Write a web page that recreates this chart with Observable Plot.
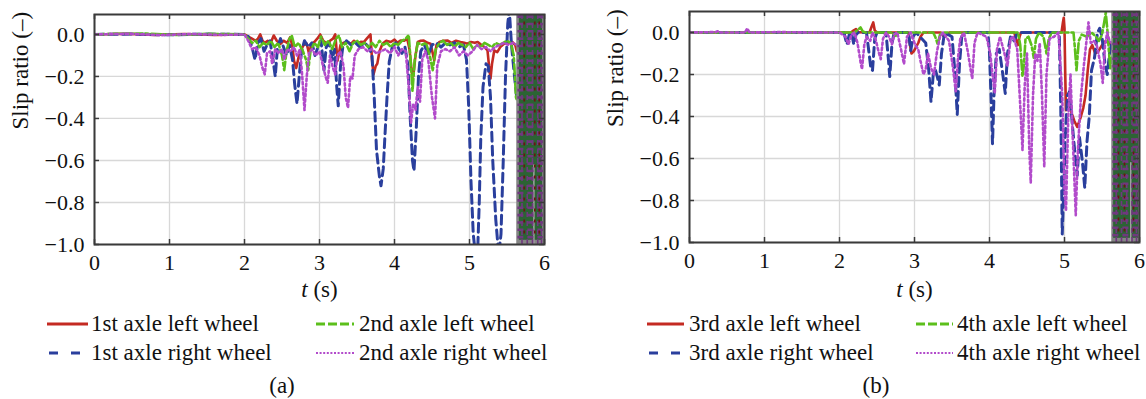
<!DOCTYPE html>
<html><head><meta charset="utf-8">
<script src="https://cdn.jsdelivr.net/npm/d3@7"></script>
<script src="https://cdn.jsdelivr.net/npm/@observablehq/plot@0.6"></script>
<style>
body{margin:0;background:#fff;width:1146px;height:399px;overflow:hidden;position:relative;font-family:"Liberation Serif","Tinos","Times New Roman","DejaVu Serif",serif;color:#111;}
.panel{position:absolute;top:0;}
.panel svg, .panel svg text{font-family:"Liberation Serif","Tinos","Times New Roman","DejaVu Serif",serif !important;}
.item{position:absolute;height:28px;display:flex;align-items:center;font-size:23px;white-space:nowrap;}
.item svg{display:block;}
.cap{position:absolute;font-size:23px;transform:translate(-50%,-50%);}
</style></head><body>
<div id="pa" class="panel" style="left:0px"></div>
<div id="pb" class="panel" style="left:595px"></div>
<script>
// ---------- ticks ----------
const xTicks = [0, 1, 2, 3, 4, 5, 6];
const yTicks = [0, -0.2, -0.4, -0.6, -0.8, -1.0];

// ---------- panel (a) series: [t (s), slip ratio] ----------
const a1L = [[0,0],[0.4,0.003],[0.8,-0.002],[1.2,0.002],[1.6,-0.002],[2.0,0],
[2.05,-0.01],[2.1,-0.02],[2.15,-0.03],[2.18,-0.02],[2.21,0],[2.24,-0.03],[2.27,-0.04],[2.31,-0.03],[2.35,-0.04],[2.39,-0.005],[2.43,-0.03],[2.48,-0.045],[2.52,-0.03],[2.57,-0.04],[2.61,-0.013],[2.64,-0.06],[2.66,-0.125],[2.69,-0.16],[2.72,-0.11],[2.75,-0.076],[2.79,-0.05],[2.83,-0.044],[2.86,-0.09],[2.89,-0.05],[2.93,-0.036],[2.97,-0.02],[3.01,0],[3.05,-0.03],[3.1,-0.044],[3.14,-0.03],[3.18,-0.02],[3.21,0],[3.24,-0.125],[3.28,-0.05],[3.32,-0.04],[3.37,-0.036],[3.42,-0.045],[3.46,-0.03],[3.5,-0.044],[3.55,-0.035],[3.59,-0.036],[3.63,-0.02],[3.68,0],[3.7,-0.12],[3.72,-0.19],[3.75,-0.15],[3.77,-0.14],[3.8,-0.08],[3.84,-0.044],[3.89,-0.03],[3.95,-0.036],[4.0,-0.025],[4.04,-0.04],[4.08,-0.029],[4.13,-0.03],[4.17,-0.02],[4.2,-0.07],[4.23,-0.18],[4.25,-0.2],[4.28,-0.1],[4.31,-0.036],[4.35,-0.03],[4.39,-0.029],[4.44,-0.04],[4.48,-0.044],[4.51,-0.09],[4.53,-0.124],[4.56,-0.05],[4.6,-0.036],[4.65,-0.03],[4.71,-0.029],[4.76,-0.04],[4.82,-0.03],[4.88,-0.036],[4.93,-0.04],[4.97,-0.044],[5.02,-0.036],[5.07,-0.04],[5.11,-0.036],[5.16,-0.05],[5.2,-0.06],[5.24,-0.076],[5.26,-0.15],[5.28,-0.21],[5.3,-0.14],[5.33,-0.076],[5.37,-0.084],[5.41,-0.06],[5.46,-0.044],[5.51,-0.04],[5.57,-0.036],[5.61,-0.05],[5.63,-0.08]];
const a1R = [[0,0],[0.5,0.002],[1.0,-0.002],[1.5,0.002],[2.0,0],
[2.05,-0.01],[2.1,-0.06],[2.14,-0.12],[2.18,-0.04],[2.22,-0.02],[2.26,-0.08],[2.3,-0.05],[2.34,-0.03],[2.38,-0.12],[2.41,-0.2],[2.44,-0.06],[2.48,-0.02],[2.52,-0.06],[2.56,-0.1],[2.6,-0.05],[2.64,-0.12],[2.67,-0.24],[2.7,-0.33],[2.73,-0.2],[2.76,-0.08],[2.8,-0.03],[2.85,-0.06],[2.9,-0.04],[2.94,-0.1],[2.98,-0.06],[3.02,-0.03],[3.06,-0.17],[3.09,-0.06],[3.13,-0.04],[3.17,-0.12],[3.2,-0.07],[3.23,-0.25],[3.25,-0.34],[3.28,-0.15],[3.31,-0.06],[3.36,-0.03],[3.42,-0.05],[3.48,-0.04],[3.54,-0.06],[3.6,-0.04],[3.66,-0.06],[3.7,-0.1],[3.73,-0.3],[3.76,-0.55],[3.8,-0.68],[3.82,-0.72],[3.85,-0.64],[3.87,-0.5],[3.9,-0.3],[3.93,-0.13],[3.97,-0.06],[4.02,-0.04],[4.06,-0.07],[4.1,-0.09],[4.14,-0.06],[4.18,-0.15],[4.21,-0.4],[4.24,-0.6],[4.26,-0.65],[4.29,-0.45],[4.32,-0.2],[4.35,-0.08],[4.4,-0.05],[4.45,-0.1],[4.5,-0.05],[4.56,-0.04],[4.62,-0.06],[4.68,-0.04],[4.74,-0.05],[4.8,-0.04],[4.86,-0.06],[4.92,-0.05],[4.96,-0.12],[4.99,-0.35],[5.02,-0.7],[5.05,-0.95],[5.08,-1.05],[5.11,-1.02],[5.13,-0.8],[5.15,-0.5],[5.18,-0.25],[5.22,-0.14],[5.25,-0.15],[5.28,-0.3],[5.31,-0.6],[5.35,-0.88],[5.39,-1.05],[5.42,-0.95],[5.45,-0.6],[5.48,-0.2],[5.51,0.05],[5.53,0.12],[5.56,-0.05],[5.6,-0.2],[5.63,-0.3]];
const a2L = [[0,0],[0.3,0.003],[0.7,0.004],[1.1,-0.002],[1.5,0.003],[2.0,0],
[2.05,-0.02],[2.1,-0.04],[2.15,-0.03],[2.2,-0.06],[2.25,-0.04],[2.3,-0.05],[2.35,-0.03],[2.4,-0.06],[2.45,-0.04],[2.5,-0.1],[2.53,-0.17],[2.56,-0.08],[2.6,-0.02],[2.63,-0.005],[2.67,-0.06],[2.72,-0.04],[2.78,-0.08],[2.82,-0.12],[2.85,-0.17],[2.88,-0.08],[2.93,-0.04],[2.98,-0.06],[3.02,-0.01],[3.07,-0.05],[3.12,-0.03],[3.17,-0.07],[3.22,-0.02],[3.26,-0.005],[3.3,-0.06],[3.35,-0.04],[3.4,-0.08],[3.45,-0.04],[3.5,-0.03],[3.55,-0.05],[3.6,-0.04],[3.65,-0.06],[3.7,-0.04],[3.75,-0.06],[3.8,-0.03],[3.85,-0.05],[3.9,-0.04],[3.95,-0.06],[4.0,-0.04],[4.05,-0.05],[4.1,-0.03],[4.15,-0.02],[4.19,-0.002],[4.22,-0.15],[4.24,-0.27],[4.27,-0.12],[4.31,-0.04],[4.36,-0.05],[4.42,-0.04],[4.47,-0.1],[4.51,-0.17],[4.55,-0.07],[4.6,-0.04],[4.65,-0.03],[4.7,-0.05],[4.75,-0.04],[4.8,-0.06],[4.85,-0.04],[4.9,-0.05],[4.95,-0.06],[5.0,-0.04],[5.05,-0.07],[5.1,-0.05],[5.15,-0.06],[5.2,-0.04],[5.25,-0.05],[5.3,-0.06],[5.35,-0.04],[5.4,-0.05],[5.45,-0.04],[5.5,-0.03],[5.55,-0.04],[5.59,-0.1],[5.62,-0.3],[5.64,-0.32]];
const a2R = [[0,0],[0.45,0.003],[0.9,-0.003],[1.3,0.002],[1.7,-0.002],[2.0,0],
[2.05,-0.03],[2.1,-0.07],[2.15,-0.06],[2.2,-0.1],[2.24,-0.16],[2.27,-0.19],[2.3,-0.09],[2.34,-0.08],[2.37,-0.14],[2.41,-0.07],[2.46,-0.09],[2.5,-0.07],[2.53,-0.12],[2.57,-0.07],[2.62,-0.08],[2.66,-0.06],[2.7,-0.1],[2.74,-0.07],[2.77,-0.2],[2.8,-0.36],[2.83,-0.2],[2.86,-0.09],[2.9,-0.07],[2.95,-0.1],[3.0,-0.08],[3.04,-0.14],[3.08,-0.2],[3.11,-0.23],[3.14,-0.1],[3.18,-0.16],[3.21,-0.19],[3.24,-0.1],[3.28,-0.08],[3.32,-0.15],[3.35,-0.3],[3.38,-0.35],[3.41,-0.2],[3.44,-0.21],[3.47,-0.1],[3.52,-0.07],[3.58,-0.06],[3.64,-0.08],[3.7,-0.07],[3.76,-0.09],[3.82,-0.08],[3.88,-0.07],[3.94,-0.09],[4.0,-0.06],[4.05,-0.1],[4.1,-0.07],[4.15,-0.08],[4.19,-0.25],[4.22,-0.42],[4.25,-0.33],[4.28,-0.36],[4.31,-0.25],[4.34,-0.32],[4.37,-0.12],[4.41,-0.08],[4.45,-0.12],[4.5,-0.3],[4.54,-0.4],[4.57,-0.15],[4.62,-0.08],[4.68,-0.07],[4.74,-0.08],[4.8,-0.06],[4.86,-0.1],[4.92,-0.08],[4.98,-0.1],[5.04,-0.08],[5.1,-0.05],[5.16,-0.07],[5.22,-0.06],[5.28,-0.08],[5.34,-0.06],[5.4,-0.05],[5.46,-0.04],[5.52,-0.05],[5.58,-0.04],[5.63,-0.05]];

// ---------- panel (b) series ----------
const b3L = [[0,0],[0.5,0],[1,0],[1.5,0],[2,0],[2.15,0],[2.19,0.01],[2.22,0.016],[2.25,0.002],[2.4,0],[2.43,0.03],[2.45,0.048],[2.47,0.01],[2.5,0],[2.92,0],[2.94,-0.06],[2.96,-0.1],[2.99,-0.09],[3.02,-0.07],[3.05,-0.05],[3.08,-0.02],[3.12,0],[3.35,0],[3.38,-0.016],[3.41,-0.02],[3.44,-0.005],[3.47,0],[4.33,0],[4.36,-0.04],[4.38,-0.06],[4.4,-0.02],[4.42,0],[4.96,0],[4.98,0.05],[4.99,0.07],[5.0,0.02],[5.01,-0.2],[5.02,-0.37],[5.05,-0.32],[5.09,-0.38],[5.13,-0.42],[5.17,-0.45],[5.21,-0.41],[5.25,-0.36],[5.28,-0.3],[5.31,-0.18],[5.34,-0.08],[5.37,-0.06],[5.41,-0.1],[5.45,-0.09],[5.5,-0.06],[5.55,-0.04],[5.6,-0.05],[5.63,-0.06]];
const b3R = [[0,0],[1,0],[2,0],[2.06,0],[2.08,-0.03],[2.1,-0.057],[2.13,-0.01],[2.16,0],[2.19,-0.056],[2.22,-0.01],[2.25,0],[2.36,0],[2.39,-0.087],[2.42,-0.175],[2.44,-0.18],[2.47,-0.03],[2.5,0],[2.62,0],[2.65,-0.12],[2.67,-0.21],[2.7,-0.05],[2.73,0],[2.92,0],[2.95,-0.087],[2.98,-0.02],[3.02,0],[3.15,-0.05],[3.19,-0.18],[3.22,-0.33],[3.25,-0.2],[3.28,-0.18],[3.31,-0.22],[3.33,-0.25],[3.36,-0.1],[3.4,0],[3.5,-0.02],[3.53,-0.15],[3.55,-0.26],[3.57,-0.39],[3.6,-0.15],[3.63,-0.02],[3.66,0],[3.98,0],[4.0,-0.1],[4.02,-0.3],[4.04,-0.53],[4.06,-0.3],[4.09,-0.1],[4.13,-0.08],[4.17,-0.18],[4.21,-0.29],[4.24,-0.1],[4.28,-0.02],[4.33,-0.04],[4.37,0],[4.93,0],[4.95,-0.35],[4.97,-0.96],[4.99,-0.75],[5.01,-0.5],[5.04,-0.3],[5.07,-0.28],[5.1,-0.42],[5.14,-0.58],[5.17,-0.68],[5.2,-0.5],[5.24,-0.62],[5.27,-0.74],[5.3,-0.52],[5.33,-0.4],[5.36,-0.18],[5.4,-0.12],[5.44,0],[5.47,0.02],[5.5,-0.02],[5.54,-0.15],[5.57,-0.2],[5.6,-0.1],[5.63,-0.05]];
const b4L = [[0,0],[1,0],[2,0],[2.2,0],[2.25,0.015],[2.28,0.024],[2.31,0.005],[2.35,0],[2.7,0],[2.75,-0.016],[2.78,0],[3.25,0],[3.28,-0.024],[3.31,-0.056],[3.34,-0.01],[3.37,0],[4.38,0],[4.41,-0.06],[4.44,-0.21],[4.46,-0.15],[4.48,-0.03],[4.52,-0.02],[4.56,-0.06],[4.59,-0.12],[4.62,-0.03],[4.66,0],[4.72,-0.02],[4.76,-0.1],[4.79,-0.03],[4.83,0],[5.12,0],[5.14,-0.08],[5.16,-0.18],[5.19,-0.04],[5.23,-0.01],[5.3,-0.02],[5.36,0],[5.42,-0.02],[5.46,-0.04],[5.5,-0.01],[5.53,0.05],[5.55,0.095],[5.57,0.02],[5.59,-0.08],[5.61,-0.17],[5.63,-0.12]];
const b4R = [[0,0],[0.35,0.002],[0.38,0.006],[0.41,0],[0.74,0],[0.77,0.02],[0.8,0],[1.2,0.002],[1.6,0],[2.0,0],[2.08,-0.02],[2.12,-0.056],[2.16,-0.01],[2.2,0],[2.24,-0.05],[2.28,-0.14],[2.3,-0.175],[2.33,-0.06],[2.36,-0.02],[2.41,-0.04],[2.44,0],[2.48,-0.03],[2.52,-0.09],[2.55,-0.127],[2.58,-0.03],[2.62,0],[2.66,-0.02],[2.7,-0.056],[2.73,-0.01],[2.77,0],[2.82,-0.08],[2.86,-0.15],[2.9,-0.02],[2.95,0],[3.01,-0.06],[3.05,-0.08],[3.08,-0.135],[3.12,-0.2],[3.15,-0.175],[3.18,-0.1],[3.22,-0.17],[3.26,-0.2],[3.3,-0.09],[3.34,-0.02],[3.38,0],[3.46,-0.04],[3.51,-0.16],[3.55,-0.28],[3.58,-0.12],[3.61,-0.03],[3.66,0],[3.71,-0.09],[3.75,-0.18],[3.77,-0.22],[3.8,-0.05],[3.84,0],[3.96,-0.02],[4.01,-0.1],[4.04,-0.2],[4.07,-0.29],[4.1,-0.08],[4.14,-0.02],[4.2,-0.1],[4.24,-0.16],[4.28,-0.03],[4.32,-0.02],[4.37,-0.08],[4.41,-0.35],[4.44,-0.56],[4.47,-0.25],[4.5,-0.1],[4.53,-0.55],[4.55,-0.715],[4.58,-0.3],[4.61,-0.1],[4.64,-0.135],[4.67,-0.05],[4.7,-0.3],[4.73,-0.64],[4.76,-0.2],[4.8,-0.03],[4.86,-0.02],[4.92,0],[4.97,-0.3],[5.0,-0.75],[5.02,-0.85],[5.05,-0.4],[5.08,-0.2],[5.11,-0.5],[5.15,-0.87],[5.18,-0.55],[5.22,-0.3],[5.26,-0.15],[5.29,-0.05],[5.32,0.048],[5.35,-0.05],[5.39,-0.04],[5.43,-0.06],[5.48,-0.15],[5.51,-0.24],[5.54,-0.06],[5.57,0.0],[5.6,-0.04],[5.63,-0.05]];

// ---------- divergent (chaotic) end region ----------
const burstSpanA = [5.63, 6.0];
const burstCoreA = [5.665, 5.975];
const burstSpanB = [5.63, 6.0];
const burstCoreB = [5.655, 5.99];
const burstRows = [-0.965,-0.93,-0.895,-0.86,-0.825,-0.79,-0.755,-0.72,-0.685,-0.65,-0.615,-0.58,-0.545,-0.51,-0.475,-0.44,-0.405,-0.37,-0.335,-0.3,-0.265,-0.23,-0.195,-0.16,-0.125,-0.09,-0.055,-0.02,0.015,0.05,0.085];
const burstColsA = [5.7, 5.77, 5.84, 5.91, 5.96];
const burstColsB = [5.69, 5.76, 5.83, 5.9, 5.96];
const burstRedA = [5.73, 5.87, 5.93];
const burstRedB = [5.72, 5.8, 5.92];
const burstLightA = [5.855, 5.875];
const burstLightB = [5.88, 5.9];

const labelsA = ["1st axle left wheel", "1st axle right wheel", "2nd axle left wheel", "2nd axle right wheel"];
const labelsB = ["3rd axle left wheel", "3rd axle right wheel", "4th axle left wheel", "4th axle right wheel"];
const yLabel = "Slip ratio (\u2013)";
const xLabel = "t (s)";

// ---------- styles ----------
const FONT = "'Liberation Serif', Tinos, 'Times New Roman', 'DejaVu Serif', serif";
const styles = [
  {stroke: "#c42a22", strokeWidth: 2.6, dash: null},
  {stroke: "#2a3f9d", strokeWidth: 3, dash: "9,5"},
  {stroke: "#5cbf1c", strokeWidth: 2.6, dash: "10,3,3,3"},
  {stroke: "#b24bcb", strokeWidth: 2.6, dash: "2.4,2.8"}
];

function makePanel(el, cfg) {
  const [y0, y1] = [-1, cfg.yTop];
  const tick = 5;
  const ux = 6 / (cfg.width - cfg.marginLeft - cfg.marginRight);
  const uy = (y1 - y0) / (cfg.height - cfg.marginTop - cfg.marginBottom);
  const marks = [
    Plot.ruleX(xTicks, {x: d => d, stroke: "#d8d8d8", strokeWidth: 1.3}),
    Plot.ruleY(yTicks, {y: d => d, stroke: "#d8d8d8", strokeWidth: 1.3})
  ];
  cfg.series.forEach((s, i) => {
    const st = styles[i];
    marks.push(Plot.line(s, {x: d => d[0], y: d => d[1], stroke: st.stroke, strokeWidth: st.strokeWidth,
      strokeDasharray: st.dash, strokeLinejoin: "round", clip: true}));
  });
  // divergent region
  marks.push(Plot.rect([cfg.burstSpan], {x1: d => d[0], x2: d => d[1], y1: () => y0, y2: () => y1, fill: "#858585"}));
  marks.push(Plot.rect([cfg.burstCore], {x1: d => d[0], x2: d => d[1], y1: () => y0 + 0.02, y2: () => y1, fill: "#2c6334"}));
  marks.push(Plot.rect([cfg.burstLight], {x1: d => d[0], x2: d => d[1], y1: () => y0, y2: () => -0.62, fill: "#a0a0a0"}));
  marks.push(Plot.ruleY(burstRows, {y: d => d, x1: () => cfg.burstSpan[0] + 0.015, x2: () => cfg.burstCore[1] + 0.01, stroke: "#70387f", strokeWidth: 2.6, strokeDasharray: "6,4"}));
  marks.push(Plot.ruleX(cfg.burstCols, {x: d => d, y1: () => y0, y2: () => y1, stroke: "#70387f", strokeWidth: 1.6, strokeDasharray: "5,4"}));
  marks.push(Plot.ruleX(cfg.burstRed, {x: d => d, y1: () => y0 + 0.05, y2: () => y1, stroke: "#6e1212", strokeWidth: 1.6, strokeDasharray: "3,8"}));
  // inward ticks
  marks.push(Plot.ruleX(xTicks, {x: d => d, y1: () => y0, y2: () => y0 + tick * uy, stroke: "#3a3a3a", strokeWidth: 1.5}));
  marks.push(Plot.ruleX(xTicks, {x: d => d, y1: () => y1, y2: () => y1 - tick * uy, stroke: "#3a3a3a", strokeWidth: 1.5}));
  marks.push(Plot.ruleY(yTicks, {y: d => d, x1: () => 0, x2: () => tick * ux, stroke: "#3a3a3a", strokeWidth: 1.5}));
  marks.push(Plot.ruleY(yTicks, {y: d => d, x1: () => 6, x2: () => 6 - tick * ux, stroke: "#3a3a3a", strokeWidth: 1.5}));
  marks.push(Plot.frame({stroke: "#3a3a3a", strokeWidth: 2}));
  marks.push(Plot.axisX({ticks: xTicks, tickSize: 0, tickPadding: 10, fontSize: 22, fontFamily: FONT, label: null, tickFormat: d3.format("d")}));
  marks.push(Plot.axisY({ticks: yTicks, tickSize: 0, tickPadding: 10, fontSize: 22, fontFamily: FONT, label: null, tickFormat: d3.format(".1f")}));
  marks.push(Plot.text([xLabel], {text: d => d, frameAnchor: "bottom", dy: cfg.xLabelDy, fontSize: 23, fontFamily: FONT, lineAnchor: "middle"}));
  marks.push(Plot.text([yLabel], {text: d => d, frameAnchor: "left", dx: cfg.yLabelDx, rotate: -90, fontSize: 23, fontFamily: FONT, lineAnchor: "middle"}));
  const svg = Plot.plot({
    width: cfg.width, height: cfg.height,
    marginLeft: cfg.marginLeft, marginRight: cfg.marginRight, marginTop: cfg.marginTop, marginBottom: cfg.marginBottom,
    x: {domain: [0, 6]}, y: {domain: [y0, y1]},
    style: {fontFamily: FONT, background: "transparent", color: "#111"},
    marks
  });
  svg.querySelectorAll("text").forEach(t => {
    t.setAttribute("font-family", FONT);
    if (t.textContent === xLabel) {
      t.textContent = "";
      const ns = "http://www.w3.org/2000/svg";
      const a = document.createElementNS(ns, "tspan"); a.setAttribute("font-style", "italic"); a.textContent = "t";
      const b = document.createElementNS(ns, "tspan"); b.textContent = " (s)";
      t.append(a, b);
    }
  });
  el.appendChild(svg);
}

function addLegend(labels, pos) {
  const rows = [pos.row1, pos.row2];
  const order = [[0, 0], [1, 0], [0, 1], [1, 1]]; // [row, col] for series 0..3
  labels.forEach((lab, i) => {
    const [r, c] = order[i];
    const st = styles[i];
    const sx = pos.swatchX[c], sw = pos.swatchW[c], tx = pos.textX[c];
    const div = document.createElement("div");
    div.className = "item";
    div.style.left = sx + "px";
    div.style.top = (rows[r] - 14) + "px";
    div.style.fontFamily = FONT;
    const off = i === 1 ? 2 : 0;
    const len = i === 1 ? 33 : sw;
    const dash = i === 1 ? "9,13" : (i === 2 ? "9,3" : (i === 3 ? "2,1.6" : null));
    div.innerHTML = `<svg width="${tx - sx}" height="28"><line x1="${off}" x2="${len}" y1="14" y2="14" stroke="${st.stroke}" stroke-width="${i===3?2:3}" ${dash?`stroke-dasharray="${dash}"`:''}/></svg><span>${lab}</span>`;
    document.body.appendChild(div);
  });
  const cap = document.createElement("div");
  cap.className = "cap";
  cap.style.fontFamily = FONT;
  cap.style.left = pos.capX + "px";
  cap.style.top = pos.capY + "px";
  cap.textContent = pos.cap;
  document.body.appendChild(cap);
}

makePanel(document.getElementById("pa"), {
  width: 573, height: 306, marginLeft: 94, marginRight: 29, marginTop: 14, marginBottom: 62, yTop: 0.095,
  series: [a1L, a1R, a2L, a2R], burstSpan: burstSpanA, burstCore: burstCoreA, burstCols: burstColsA, burstRed: burstRedA, burstLight: burstLightA,
  xLabelDy: 45, yLabelDx: -74
});
makePanel(document.getElementById("pb"), {
  width: 551, height: 306, marginLeft: 94, marginRight: 7, marginTop: 11, marginBottom: 64, yTop: 0.1,
  series: [b3L, b3R, b4L, b4R], burstSpan: burstSpanB, burstCore: burstCoreB, burstCols: burstColsB, burstRed: burstRedB, burstLight: burstLightB,
  xLabelDy: 47, yLabelDx: -74
});
addLegend(labelsA, {row1: 324, row2: 353, swatchX: [47, 316], swatchW: [41, 38], textX: [91, 359], capX: 282, capY: 386, cap: "(a)"});
addLegend(labelsB, {row1: 324, row2: 353, swatchX: [647, 916], swatchW: [37, 37], textX: [689, 957], capX: 876, capY: 386, cap: "(b)"});
</script>
</body></html>
